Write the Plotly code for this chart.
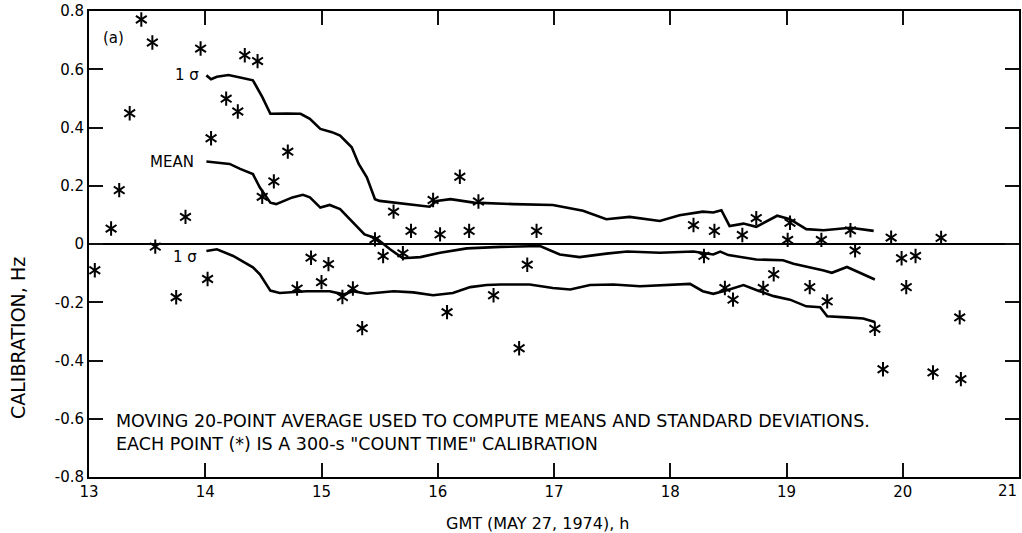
import plotly.graph_objects as go

# Calibration points (*)
pt_x = [13.05, 13.19, 13.26, 13.35, 13.45, 13.545, 13.57, 13.75, 13.83, 13.96,
        14.02, 14.05, 14.18, 14.28, 14.34, 14.45, 14.49, 14.59, 14.71, 14.79,
        14.91, 15.00, 15.06, 15.18, 15.27, 15.35, 15.46, 15.53, 15.62, 15.70,
        15.77, 15.96, 16.02, 16.08, 16.19, 16.27, 16.35, 16.48, 16.70, 16.77,
        16.85, 18.20, 18.29, 18.38, 18.47, 18.54, 18.62, 18.74, 18.80, 18.89,
        19.01, 19.03, 19.20, 19.30, 19.35, 19.55, 19.59, 19.76, 19.83, 19.90,
        19.99, 20.03, 20.11, 20.26, 20.33, 20.49, 20.50]
pt_y = [-0.090, 0.053, 0.185, 0.449, 0.771, 0.692, -0.009, -0.183, 0.093, 0.671,
        -0.120, 0.363, 0.499, 0.455, 0.648, 0.628, 0.162, 0.215, 0.317, -0.153,
        -0.047, -0.131, -0.069, -0.182, -0.153, -0.289, 0.016, -0.041, 0.111, -0.032,
        0.045, 0.151, 0.033, -0.234, 0.231, 0.045, 0.146, -0.176, -0.358, -0.071,
        0.045, 0.065, -0.041, 0.045, -0.151, -0.191, 0.031, 0.089, -0.151, -0.104,
        0.014, 0.073, -0.148, 0.014, -0.197, 0.047, -0.022, -0.291, -0.430, 0.022,
        -0.049, -0.148, -0.041, -0.441, 0.021, -0.252, -0.464]

# Upper 1-sigma curve
up_x = [14.01, 14.05, 14.10, 14.20, 14.30, 14.41, 14.49, 14.56, 14.70, 14.82,
        14.90, 14.99, 15.09, 15.16, 15.26, 15.32, 15.39, 15.46, 15.50, 15.73,
        15.93, 15.99, 16.11, 16.31, 16.50, 16.65, 16.99, 17.25, 17.45, 17.65,
        17.91, 18.08, 18.28, 18.37, 18.44, 18.51, 18.63, 18.74, 18.92, 19.03,
        19.17, 19.32, 19.55, 19.75]
up_y = [0.579, 0.566, 0.574, 0.580, 0.572, 0.562, 0.505, 0.447, 0.448, 0.447,
        0.430, 0.395, 0.384, 0.372, 0.332, 0.275, 0.229, 0.154, 0.148, 0.137,
        0.128, 0.148, 0.154, 0.142, 0.138, 0.137, 0.134, 0.114, 0.085, 0.093,
        0.079, 0.099, 0.111, 0.108, 0.116, 0.062, 0.070, 0.059, 0.097, 0.085,
        0.051, 0.047, 0.056, 0.045]

# Mean curve
mean_x = [14.01, 14.21, 14.30, 14.41, 14.47, 14.56, 14.61, 14.75, 14.84, 14.90,
          14.99, 15.07, 15.16, 15.27, 15.37, 15.47, 15.59, 15.70, 15.85, 16.02,
          16.25, 16.54, 16.88, 17.05, 17.22, 17.45, 17.63, 17.91, 18.20, 18.37,
          18.43, 18.50, 18.63, 18.74, 18.97, 19.06, 19.32, 19.39, 19.52, 19.63,
          19.76]
mean_y = [0.283, 0.275, 0.258, 0.240, 0.194, 0.142, 0.137, 0.160, 0.169, 0.160,
          0.125, 0.134, 0.120, 0.073, 0.033, 0.020, -0.018, -0.049, -0.045, -0.030,
          -0.015, -0.010, -0.007, -0.036, -0.045, -0.033, -0.026, -0.030, -0.026, -0.036,
          -0.026, -0.038, -0.045, -0.053, -0.056, -0.068, -0.091, -0.099, -0.079, -0.099,
          -0.122]

# Lower 1-sigma curve
lo_x = [14.01, 14.10, 14.24, 14.41, 14.47, 14.56, 14.64, 14.87, 15.07, 15.19,
        15.27, 15.39, 15.62, 15.79, 15.96, 16.13, 16.28, 16.42, 16.54, 16.79,
        16.99, 17.14, 17.31, 17.51, 17.74, 17.97, 18.17, 18.28, 18.37, 18.48,
        18.63, 18.74, 18.89, 19.03, 19.17, 19.29, 19.35, 19.52, 19.66, 19.76]
lo_y = [-0.024, -0.018, -0.041, -0.080, -0.104, -0.160, -0.168, -0.162, -0.162, -0.173,
        -0.162, -0.171, -0.162, -0.166, -0.176, -0.168, -0.148, -0.141, -0.139, -0.139,
        -0.151, -0.156, -0.141, -0.139, -0.145, -0.141, -0.137, -0.162, -0.171, -0.160,
        -0.141, -0.158, -0.179, -0.191, -0.214, -0.217, -0.248, -0.252, -0.256, -0.268]

x_ticks = [13, 14, 15, 16, 17, 18, 19, 20, 21]
x_labels = ["13", "14", "15", "16", "17", "18", "19", "20", "21"]
y_ticks = [0.8, 0.6, 0.4, 0.2, 0, -0.2, -0.4, -0.6, -0.8]
y_labels = ["0.8", "0.6", "0.4", "0.2", "0", "-0.2", "-0.4", "-0.6", "-0.8"]

FONT = "DejaVu Sans"
W, H = 1022, 533
L, R, T, B = 89, 3, 11, 56
PW, PH = W - L - R, H - T - B


def px(xp):
    return (xp - L) / PW


def py(yp):
    return (H - B - yp) / PH


fig = go.Figure()
for xs, ys in [(up_x, up_y), (mean_x, mean_y), (lo_x, lo_y)]:
    fig.add_trace(go.Scatter(x=xs, y=ys, mode="lines",
                             line=dict(color="black", width=2.6),
                             showlegend=False, hoverinfo="skip"))
for sym in ["y-up-open", "y-down-open"]:
    fig.add_trace(go.Scatter(x=pt_x, y=pt_y, mode="markers",
                             marker=dict(symbol=sym, size=9, color="black",
                                         line=dict(color="black", width=2)),
                             showlegend=False, hoverinfo="skip"))

# last x label drawn separately so it is not cut by the page edge
fig.update_xaxes(range=[13, 21], tickmode="array", tickvals=x_ticks,
                 ticktext=x_labels[:-1] + [""],
                 ticks="inside", ticklen=14, tickwidth=2, tickcolor="#101010",
                 showline=True, linecolor="black", linewidth=2, mirror="ticks",
                 showgrid=False, zeroline=False)
fig.update_yaxes(range=[-0.8, 0.8], tickmode="array", tickvals=y_ticks, ticktext=y_labels,
                 ticks="inside", ticklen=14, tickwidth=2, tickcolor="#101010",
                 showline=True, linecolor="black", linewidth=2, mirror="ticks",
                 showgrid=False,
                 zeroline=True, zerolinecolor="black", zerolinewidth=2)

annots = [
    dict(x=px(113), y=py(38), text="(a)", font_size=15),
    dict(x=px(187), y=py(75), text="1 σ", font_size=15),
    dict(x=px(172), y=py(162), text="MEAN", font_size=15),
    dict(x=px(185), y=py(257), text="1 σ", font_size=15),
    dict(x=px(537), y=py(523), text="GMT (MAY 27, 1974), h", font_size=16),
    dict(x=px(18), y=py(338), text="CALIBRATION, Hz", font_size=19, textangle=-90),
    dict(x=px(114), y=py(432), xanchor="left", align="left", font_size=17.5,
         text="MOVING 20-POINT AVERAGE USED TO COMPUTE MEANS AND STANDARD DEVIATIONS.<br>"
              "EACH POINT (*) IS A 300-s \"COUNT TIME\" CALIBRATION"),
    dict(x=1.0, xanchor="right", y=py(491), text=x_labels[-1], font_size=15),
]
for a in annots:
    fs = a.pop("font_size")
    a.setdefault("xanchor", "center")
    a.setdefault("yanchor", "middle")
    fig.add_annotation(xref="paper", yref="paper", showarrow=False,
                       font=dict(family=FONT, size=fs, color="black"), **a)

fig.update_layout(template="none", width=W, height=H,
                  margin=dict(l=L, r=R, t=T, b=B),
                  paper_bgcolor="white", plot_bgcolor="white",
                  font=dict(family=FONT, size=15, color="black"))

fig.write_html("out.html")
